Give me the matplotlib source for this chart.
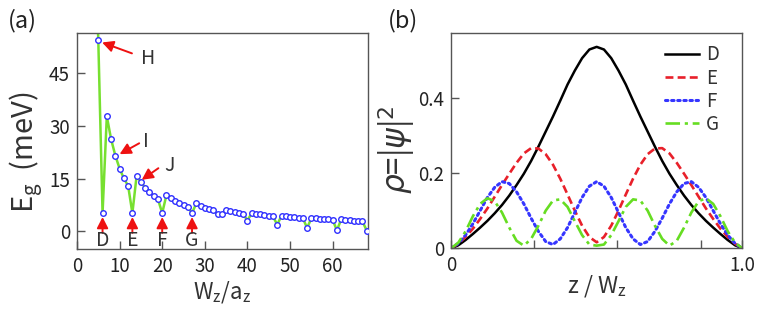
import matplotlib
matplotlib.use("Agg")
import matplotlib.pyplot as plt

plt.rcParams['font.family'] = ['Noto Sans CJK JP', 'DejaVu Sans']
plt.rcParams['mathtext.fontset'] = 'dejavusans'

# ---------------- panel (a) data ----------------
wz = [4, 5, 6, 7, 8, 9, 10, 11, 12, 13, 14, 15, 16, 17, 18, 19, 20, 21, 22, 23,
      24, 25, 26, 27, 28, 29, 30, 31, 32, 33, 34, 35, 36, 37, 38, 39, 40, 41, 42,
      43, 44, 45, 46, 47, 48, 49, 50, 51, 52, 53, 54, 55, 56, 57, 58, 59, 60, 61,
      62, 63, 64, 65, 66, 67, 68]
eg = [90.0, 54.5, 5.2, 32.8, 26.3, 21.6, 17.9, 15.1, 13.0, 5.2, 15.9, 14.0, 12.5,
      11.2, 10.1, 9.2, 5.2, 10.4, 9.5, 8.8, 8.1, 7.6, 7.0, 5.2, 8.0, 7.3, 6.7, 6.3,
      6.0, 4.9, 5.1, 6.1, 5.7, 5.4, 5.2, 5.0, 3.1, 5.2, 5.1, 4.9, 4.7, 4.5, 4.3, 1.9,
      4.5, 4.3, 4.1, 4.0, 3.9, 3.8, 1.0, 3.7, 3.7, 3.6, 3.5, 3.4, 3.3, 0.3, 3.4, 3.3,
      3.2, 3.1, 3.0, 2.9, 0.2]
dip_labels = ['D', 'E', 'F', 'G']
dip_x = [6, 13, 20, 27]
peak_labels = ['H', 'I', 'J']
peak_x = [5, 10, 15]
xticks_a = [0, 10, 20, 30, 40, 50, 60]
yticks_a = [0, 15, 30, 45]

# ---------------- panel (b) data ----------------
z = [0.0, 0.025, 0.05, 0.075, 0.1, 0.125, 0.15, 0.175, 0.2, 0.225, 0.25, 0.275,
     0.3, 0.325, 0.35, 0.375, 0.4, 0.425, 0.45, 0.475, 0.5, 0.525, 0.55, 0.575,
     0.6, 0.625, 0.65, 0.675, 0.7, 0.725, 0.75, 0.775, 0.8, 0.825, 0.85, 0.875,
     0.9, 0.925, 0.95, 0.975, 1.0]
rho_D = [0, .008, .022, .038, .055, .073, .093, .115, .14, .168, .198, .232, .27,
         .31, .35, .392, .435, .472, .505, .528, .535, .528, .505, .472, .435, .392,
         .35, .31, .27, .232, .198, .168, .14, .115, .093, .073, .055, .038, .022,
         .008, 0]
rho_E = [0, .012, .03, .052, .078, .106, .137, .168, .198, .227, .252, .266, .265,
         .25, .222, .185, .143, .1, .06, .03, .016, .03, .06, .1, .143, .185, .222,
         .25, .265, .266, .252, .227, .198, .168, .137, .106, .078, .052, .03, .012, 0]
rho_F = [0, .013, .035, .065, .1, .135, .162, .177, .172, .15, .118, .08, .045,
         .018, .01, .025, .055, .095, .135, .165, .177, .165, .135, .095, .055, .025,
         .01, .018, .045, .08, .118, .15, .172, .177, .162, .135, .1, .065, .035,
         .013, 0]
rho_G = [0, .015, .045, .085, .118, .133, .125, .095, .055, .02, .007, .025, .06,
         .1, .127, .13, .11, .072, .035, .01, .007, .01, .035, .072, .11, .13, .127,
         .1, .06, .025, .007, .02, .055, .095, .125, .133, .118, .085, .045, .015, 0]
series_names = ['D', 'E', 'F', 'G']

spine_col = '#555555'
text_col = '#333333'

fig = plt.figure(figsize=(7.63, 3.11), dpi=100)
ax1 = fig.add_axes([0.1009, 0.1994, 0.3814, 0.6945])
ax2 = fig.add_axes([0.5911, 0.2016, 0.3818, 0.6913])

for ax in (ax1, ax2):
    for s in ax.spines.values():
        s.set_color(spine_col)
        s.set_linewidth(1.0)
    ax.tick_params(direction='in', length=6, width=1.0, color=spine_col,
                   labelsize=13.5, labelcolor='#222222', top=False, right=False)

# ----- panel (a)
ax1.plot(wz, eg, color='#77e030', lw=1.8, zorder=2)
ax1.plot(wz, eg, ls='none', marker='o', ms=4.0, mfc='white', mec='#2f2fff',
         mew=1.0, zorder=3)
ax1.set_xlim(0, 68.3)
ax1.set_ylim(-5, 56.5)
ax1.set_xticks(xticks_a)
ax1.set_yticks(yticks_a)
ax1.tick_params(axis='x', pad=5)
ax1.tick_params(axis='y', pad=5)
ax1.set_xlabel(r'W$_\mathregular{z}$/a$_\mathregular{z}$', fontsize=16, color=text_col,
               va='center', ha='center')
ax1.set_ylabel(r'E$_\mathregular{g}$  (meV)', fontsize=21, color=text_col,
               va='center', ha='center')
ax1.yaxis.set_label_coords(-0.175, 0.45)
ax1.xaxis.set_label_coords(0.5, -0.2)

arrow_kw = dict(arrowstyle='-|>,head_length=0.55,head_width=0.28', color='#ee1111',
                lw=1.4, mutation_scale=12, shrinkA=0, shrinkB=0)
for lab, xd in zip(dip_labels, dip_x):
    yv = eg[wz.index(xd)]
    ax1.annotate('', xy=(xd, yv - 1.1), xytext=(xd, -0.4), arrowprops=arrow_kw)
    ax1.text(xd, -2.7, lab, ha='center', va='center', fontsize=14, color=text_col)

peak_tails = [(12.9, 50.7), (14.6, 25.1), (19.1, 18.0)]
peak_text = [(15.0, 49.2), (15.6, 25.6), (20.6, 18.9)]
peak_tips = [(5.9, 53.8), (10.0, 22.0), (15.2, 14.7)]
for lab, tail, tip, tpos in zip(peak_labels, peak_tails, peak_tips, peak_text):
    ax1.annotate('', xy=tip, xytext=tail, arrowprops=arrow_kw)
    ax1.text(tpos[0], tpos[1], lab, ha='left', va='center', fontsize=14, color=text_col)

fig.text(0.010, 0.935, '(a)', fontsize=17, color='#222222', va='center', ha='left')

# ----- panel (b)
styles = [dict(color='black', ls='-', lw=1.8),
          dict(color='#e8202a', ls=(0, (3.0, 1.6)), lw=1.9),
          dict(color='#3535ff', ls=(0, (0.8, 1.2)), lw=2.2, dash_capstyle='round'),
          dict(color='#66dd22', ls=(0, (5.5, 1.8, 1.2, 1.8)), lw=1.9)]
for name, rho, st in zip(series_names, [rho_D, rho_E, rho_F, rho_G], styles):
    ax2.plot(z, rho, label=name, **st)

ax2.set_xlim(0, 1.0)
ax2.set_ylim(0, 0.571)
ax2.set_xticks([0, 2 / 7, 4 / 7, 6 / 7, 1.0])
ax2.set_xticklabels(['0', '', '', '', '1.0'])
ax2.set_yticks([0, 0.2, 0.4])
ax2.set_yticklabels(['0', '0.2', '0.4'])
ax2.tick_params(axis='x', pad=5)
ax2.tick_params(axis='y', pad=5)
ax2.set_xlabel(r'z / W$_\mathregular{z}$', fontsize=16.5, color=text_col,
               va='center', ha='center')
ax2.xaxis.set_label_coords(0.5, -0.175)
ax2.set_ylabel(r'$\rho$=|$\psi$|$^2$', fontsize=22.5, color=text_col,
               va='center', ha='center')
ax2.yaxis.set_label_coords(-0.185, 0.457)
leg = ax2.legend(loc='upper right', frameon=False, fontsize=13.5, handlelength=1.85,
                 handletextpad=0.35, labelspacing=0.12, borderaxespad=0.3,
                 bbox_to_anchor=(0.965, 1.01))
for t in leg.get_texts():
    t.set_color(text_col)

fig.text(0.508, 0.935, '(b)', fontsize=17, color='#222222', va='center', ha='left')

fig.savefig('out.png', dpi=100)
